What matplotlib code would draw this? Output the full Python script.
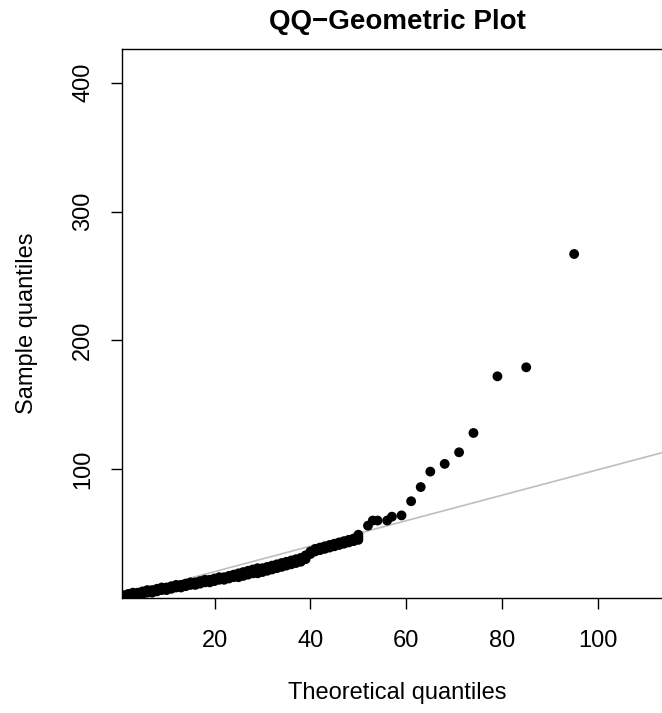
import matplotlib
matplotlib.use("Agg")
import matplotlib.pyplot as plt

plt.rcParams['font.family'] = ['Liberation Sans', 'DejaVu Sans']

# Theoretical (geometric) quantiles and sample quantiles
theoretical = [0, 0, 0, 1, 1, 1, 2, 2, 2, 3, 3, 3, 4, 4, 4, 5, 5, 5, 6, 6, 6,
               7, 7, 7, 8, 8, 8, 9, 9, 9, 10, 10, 10, 11, 11, 11, 12, 12, 12,
               13, 13, 13, 14, 14, 14, 15, 15, 15, 16, 16, 16, 17, 17, 17,
               18, 18, 18, 19, 19, 19, 20, 20, 20, 21, 21, 21, 22, 22, 22,
               23, 23, 23, 24, 24, 24, 25, 25, 25, 26, 26, 26, 27, 27, 27,
               28, 28, 28, 29, 29, 29, 30, 30, 30, 31, 31, 31, 32, 32, 32,
               33, 33, 33, 34, 34, 34, 35, 35, 35, 36, 36, 36, 37, 37, 37,
               38, 38, 38, 39, 39, 39, 40, 40, 40, 41, 41, 41, 42, 42, 42,
               43, 43, 43, 44, 44, 44, 45, 45, 45, 46, 46, 46, 47, 47, 47,
               48, 48, 48, 49, 49, 49, 50, 50, 50,
               52, 53, 54, 56, 57, 59, 61, 63, 65, 68, 71, 74, 79, 85, 95]
sample = [0, 1, 1, 1, 1, 2, 1, 2, 3, 2, 3, 4, 2, 3, 4, 3, 4, 5, 4, 5, 6,
          4, 5, 6, 5, 6, 7, 6, 7, 8, 6, 7, 8, 7, 8, 9, 8, 9, 10,
          8, 9, 10, 9, 10, 11, 10, 11, 12, 10, 11, 12, 11, 12, 13,
          12, 13, 14, 12, 13, 14, 13, 14, 15, 14, 15, 16, 14, 15, 16,
          15, 16, 17, 16, 17, 18, 16, 17, 19, 17, 18, 20, 18, 19, 21,
          19, 20, 22, 19, 21, 23, 20, 22, 23, 21, 22, 24, 22, 24, 25,
          23, 25, 26, 24, 26, 27, 25, 27, 28, 26, 28, 29, 27, 29, 30,
          28, 30, 31, 30, 32, 33, 34, 35, 36, 36, 37, 38, 37, 38, 39,
          38, 39, 40, 39, 40, 41, 40, 41, 42, 41, 42, 43, 42, 43, 44,
          43, 44, 45, 44, 45, 46, 45, 47, 49,
          56, 60, 60, 60, 63, 64, 75, 86, 98, 104, 113, 128, 172, 179, 267]
assert len(theoretical) == len(sample)

# Reference line (qqline)
line_intercept = 0.5
line_slope = 0.99

x_ticks = [20, 40, 60, 80, 100]
y_ticks = [100, 200, 300, 400]

W, H = 662, 713
fig = plt.figure(figsize=(W / 100, H / 100), dpi=100)
left, right = 122, 672
top, bottom = 49, 597.8
ax = fig.add_axes([left / W, (H - bottom) / H, (right - left) / W, (bottom - top) / H])

ax.axline((0, line_intercept), slope=line_slope, color='#BEBEBE', lw=1.2, zorder=1)
ax.scatter(theoretical, sample, s=50, color='black', edgecolors='none', zorder=2)

ax.set_xlim(0.71, 115.4)
ax.set_ylim(0, 426.2)
ax.set_xticks(x_ticks)
ax.set_yticks(y_ticks)
ax.tick_params(axis='both', direction='out', length=8, width=1, labelsize=17)
ax.tick_params(axis='x', pad=15.5)
ax.tick_params(axis='y', pad=12)
for lbl in ax.get_yticklabels():
    lbl.set_rotation(90)
    lbl.set_va('center')
for s in ax.spines.values():
    s.set_linewidth(1.0)

fig.text(397 / W, 1 - 22 / H, 'QQ\u2212Geometric Plot', ha='center', va='center',
         fontsize=20, fontweight='bold')
fig.text(397 / W, 1 - 693 / H, 'Theoretical quantiles', ha='center', va='center', fontsize=17)
fig.text(27 / W, 1 - 323 / H, 'Sample quantiles', ha='center', va='center', fontsize=17,
         rotation=90)

fig.savefig('out.png', dpi=100)
